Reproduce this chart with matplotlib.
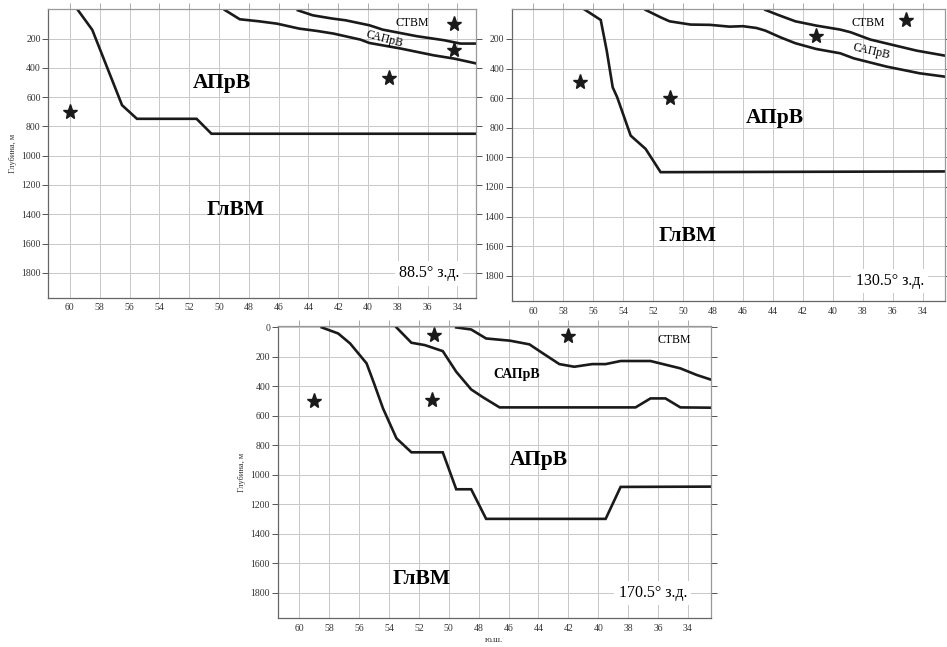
import matplotlib
matplotlib.use("Agg")
import matplotlib.pyplot as plt

plt.rcParams['font.family'] = ['Liberation Serif', 'DejaVu Serif']

# ---------------- data ----------------
# Panel 1: 88.5° W
p1_deep_lat = [59.5, 58.5, 56.5, 55.5, 51.5, 50.5, 32.5]
p1_deep_dep = [0, 140, 655, 748, 748, 850, 850]
p1_mid_lat = [49.6, 48.6, 47.3, 46.1, 44.6, 43.4, 42.3, 40.5, 39.9, 37.8, 35.6, 34.2, 32.5]
p1_mid_dep = [5, 68, 82, 98, 132, 148, 166, 207, 230, 268, 314, 337, 375]
p1_top_lat = [44.7, 43.7, 42.4, 41.5, 39.9, 39.0, 36.7, 34.9, 33.8, 32.5]
p1_top_dep = [7, 41, 63, 75, 109, 139, 184, 211, 234, 234]
p1_star_lat = [60.0, 34.2, 34.2, 38.6]
p1_star_dep = [700, 100, 275, 469]

# Panel 2: 130.5° W
p2_deep_lat = [56.6, 55.5, 55.1, 54.7, 54.4, 53.5, 52.5, 51.5, 32.5]
p2_deep_dep = [0, 72, 279, 527, 594, 853, 943, 1100, 1095]
p2_mid_lat = [52.5, 51.5, 50.9, 49.5, 48.2, 46.9, 46.0, 45.1, 44.5, 43.5, 42.5, 41.1, 39.5, 38.6, 36.4, 34.2, 32.5]
p2_mid_dep = [4, 54, 81, 103, 105, 117, 114, 126, 144, 189, 229, 268, 297, 331, 387, 432, 455]
p2_top_lat = [44.5, 43.7, 42.5, 41.1, 39.5, 38.8, 37.5, 36.1, 34.4, 32.5]
p2_top_dep = [4, 36, 81, 110, 137, 155, 204, 238, 279, 313]
p2_star_lat = [56.9, 50.9, 41.1, 35.1]
p2_star_dep = [493, 599, 182, 69]

# Panel 3: 170.5° W
p3_deep_lat = [58.5, 57.4, 56.6, 55.5, 55.0, 54.4, 53.5, 52.5, 50.4, 49.5, 48.5, 47.5, 39.5, 38.5, 32.5]
p3_deep_dep = [0, 41, 109, 244, 380, 550, 753, 848, 848, 1099, 1099, 1300, 1300, 1083, 1081]
p3_mid_lat = [53.5, 52.5, 51.6, 50.4, 49.5, 48.5, 47.7, 46.6, 37.5, 36.5, 35.5, 34.5, 32.5]
p3_mid_dep = [0, 104, 120, 161, 301, 421, 475, 543, 543, 482, 482, 543, 545]
p3_top_lat = [49.5, 48.5, 47.5, 45.9, 44.6, 43.7, 42.6, 41.6, 40.4, 39.5, 38.5, 36.5, 34.5, 33.4, 32.5]
p3_top_dep = [0, 14, 75, 90, 115, 176, 249, 267, 249, 249, 228, 228, 278, 323, 353]
p3_star_lat = [59.0, 51.1, 51.0, 42.0]
p3_star_dep = [500, 493, 52, 57]

lat_ticks = [60, 58, 56, 54, 52, 50, 48, 46, 44, 42, 40, 38, 36, 34]
dep_ticks_top = [200, 400, 600, 800, 1000, 1200, 1400, 1600, 1800]
dep_ticks_bot = [0, 200, 400, 600, 800, 1000, 1200, 1400, 1600, 1800]

LINE = '#1a1a1a'

fig = plt.figure(figsize=(9.47, 6.47), dpi=100)
fig.patch.set_facecolor('white')


def style(ax, xlim, ylim, yticks):
    ax.set_xlim(*xlim)
    ax.set_ylim(*ylim)
    ax.set_xticks(lat_ticks)
    ax.set_yticks(yticks)
    ax.grid(True, color='#c8c8c8', lw=0.7)
    ax.set_axisbelow(True)
    for name, s in ax.spines.items():
        s.set_color('#666666' if name in ('left', 'bottom') else '#999999')
        s.set_linewidth(0.9)
    ax.tick_params(axis='y', direction='out', length=4, width=0.7, color='#555555',
                   right=True, labelsize=7, labelcolor='#333333', pad=1.5)
    ax.tick_params(axis='x', direction='out', length=0, width=0.7, color='#aaaaaa',
                   labelsize=7, labelcolor='#333333', pad=4)
    ax.tick_params(axis='x', which='major', top=True)
    for t in ax.xaxis.get_major_ticks():
        t.tick2line.set_markersize(4)


def panel(ax, deep, mid, top, stars):
    for lat, dep in (deep, mid, top):
        ax.plot(lat, dep, color=LINE, lw=1.9, solid_joinstyle='miter')
    ax.plot(stars[0], stars[1], linestyle='none', marker='*', ms=11, color=LINE)


box = dict(facecolor='white', edgecolor='none', pad=3)

# ----- panel 1 -----
ax1 = fig.add_axes([0.0510, 0.5399, 0.4516, 0.4457])
style(ax1, (61.45, 32.75), (1970, 0), dep_ticks_top)
panel(ax1, (p1_deep_lat, p1_deep_dep), (p1_mid_lat, p1_mid_dep),
      (p1_top_lat, p1_top_dep), (p1_star_lat, p1_star_dep))
ax1.text(49.8, 500, 'АПрВ', fontsize=15.5, fontweight='bold', ha='center', va='center')
ax1.text(48.9, 1372, 'ГлВМ', fontsize=15.5, fontweight='bold', ha='center', va='center')
ax1.text(37.0, 93, 'СТВМ', fontsize=8.5, ha='center', va='center')
ax1.text(38.9, 205, 'САПрВ', fontsize=8.5, ha='center', va='center', rotation=-15)
ax1.text(35.9, 1804, '88.5° з.д.', fontsize=11.5, ha='center', va='center', bbox=box)
ax1.set_ylabel('Глубина, м', fontsize=6, color='#333333', labelpad=3)

# ----- panel 2 -----
ax2 = fig.add_axes([0.5403, 0.5348, 0.4576, 0.4508])
style(ax2, (61.45, 32.5), (1970, 0), dep_ticks_top)
panel(ax2, (p2_deep_lat, p2_deep_dep), (p2_mid_lat, p2_mid_dep),
      (p2_top_lat, p2_top_dep), (p2_star_lat, p2_star_dep))
ax2.text(43.9, 734, 'АПрВ', fontsize=15.5, fontweight='bold', ha='center', va='center')
ax2.text(49.7, 1529, 'ГлВМ', fontsize=15.5, fontweight='bold', ha='center', va='center')
ax2.text(37.6, 92, 'СТВМ', fontsize=8.5, ha='center', va='center')
ax2.text(37.4, 284, 'САПрВ', fontsize=8.5, ha='center', va='center', rotation=-13)
ax2.text(36.2, 1836, '130.5° з.д.', fontsize=11.5, ha='center', va='center', bbox=box)

# ----- panel 3 -----
ax3 = fig.add_axes([0.2932, 0.0444, 0.4576, 0.4518])
style(ax3, (61.45, 32.45), (1975, -10), dep_ticks_bot)
panel(ax3, (p3_deep_lat, p3_deep_dep), (p3_mid_lat, p3_mid_dep),
      (p3_top_lat, p3_top_dep), (p3_star_lat, p3_star_dep))
ax3.text(44.0, 900, 'АПрВ', fontsize=15.5, fontweight='bold', ha='center', va='center')
ax3.text(51.8, 1710, 'ГлВМ', fontsize=15.5, fontweight='bold', ha='center', va='center')
ax3.text(34.9, 86, 'СТВМ', fontsize=8.5, ha='center', va='center')
ax3.text(45.45, 319, 'САПрВ', fontsize=10, fontweight='bold', ha='center', va='center')
ax3.text(36.35, 1805, '170.5° з.д.', fontsize=11.5, ha='center', va='center', bbox=box)
ax3.set_ylabel('Глубина, м', fontsize=6, color='#333333', labelpad=3)
ax3.set_xlabel('ю.ш.', fontsize=6.5, color='#333333', labelpad=2)

fig.savefig('out.png', dpi=100, facecolor='white')
